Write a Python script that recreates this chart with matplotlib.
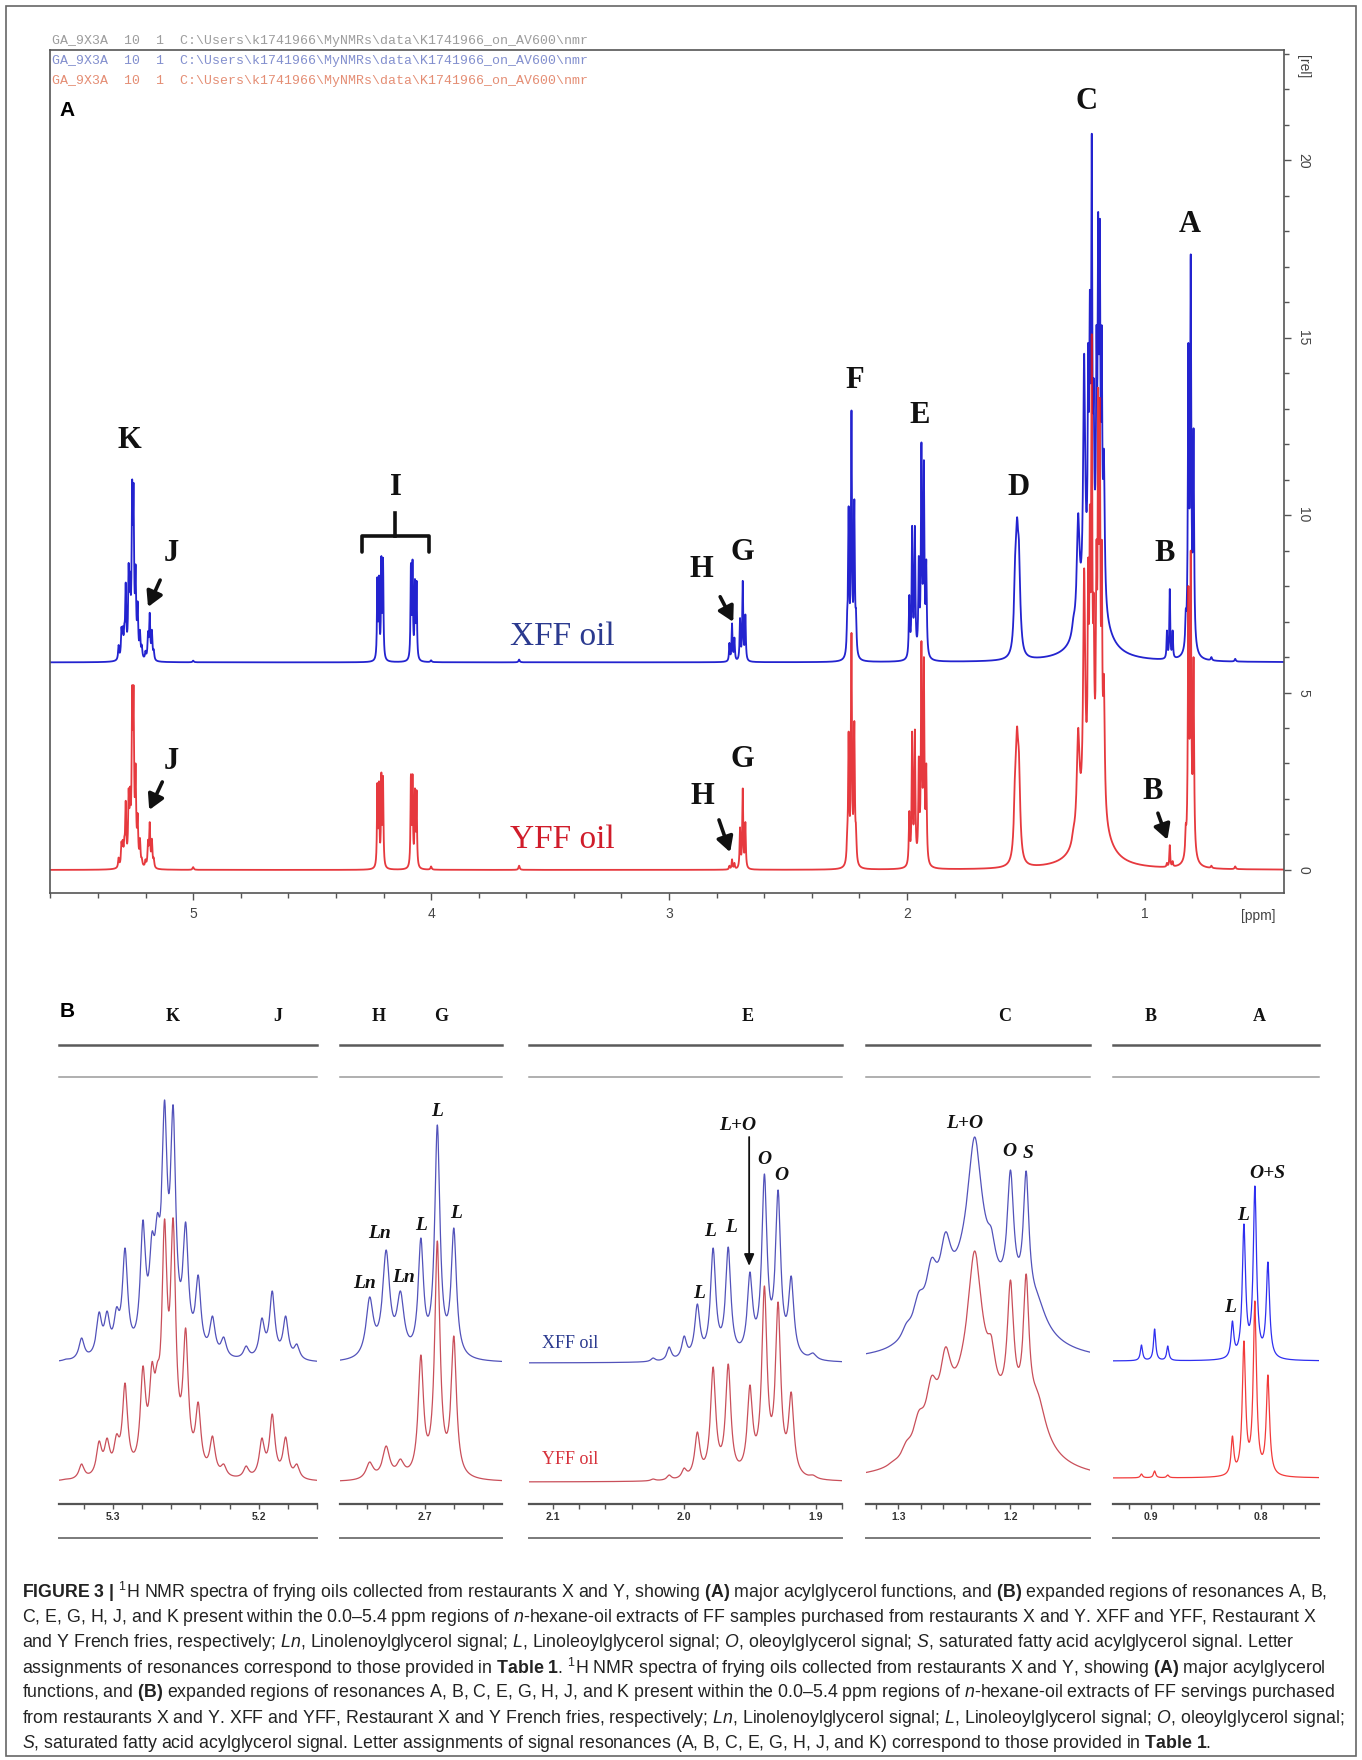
import numpy as np
import matplotlib
matplotlib.use("Agg")
import matplotlib.pyplot as plt
from matplotlib.ticker import MultipleLocator, FormatStrFormatter

plt.rcParams['font.family'] = ['Liberation Sans', 'DejaVu Sans']
plt.rcParams['mathtext.fontset'] = 'custom'
plt.rcParams['mathtext.rm'] = 'Liberation Sans'
plt.rcParams['mathtext.it'] = 'Liberation Sans:italic'
plt.rcParams['mathtext.bf'] = 'Liberation Sans:bold'

W, H = 1362, 1760

# ---------------- panel A : line lists (ppm, half width, height above baseline)
A_ppm = [5.3135, 5.3015, 5.2960, 5.2895, 5.2837, 5.2714, 5.2652, 5.2566, 5.2507, 5.2421,
         5.2335, 5.2237, 5.2160, 5.2006, 5.1898, 5.1827, 5.1735, 5.1658, 5.000,
         4.226, 4.219, 4.209, 4.202, 4.085, 4.078, 4.068, 4.061, 4.000, 3.630,
         2.746, 2.735, 2.725, 2.7015, 2.690, 2.679,
         2.251, 2.245, 2.233, 2.221, 2.214,
         1.990, 1.978, 1.9665, 1.950, 1.939, 1.9286, 1.9186,
         1.553, 1.545, 1.537, 1.529, 1.520,
         1.300, 1.280, 1.255, 1.238, 1.231, 1.223, 1.215, 1.203, 1.196, 1.189, 1.181, 1.172,
         0.907, 0.895, 0.883,
         0.828, 0.817, 0.807, 0.795, 0.720, 0.620]
A_w = [.0026] * 18 + [.003] + [.002] * 8 + [.003, .003] + [.0022] * 6 + [.0025] * 5 + \
      [.0025] * 7 + [.006] * 5 + [.007, .007, .005] + [.0025] * 8 + [.004] + \
      [.002] * 3 + [.0025] * 4 + [.003, .003]
A_xff = [0.49, 1.0, 1.02, 1.1, 2.25, 2.8, 2.56, 5.15, 5.05, 2.76,
         1.72, 0.92, 0.5, 0.33, 0.88, 1.4, 0.92, 0.37, 0.05,
         2.4, 2.45, 3.0, 2.95, 2.8, 2.9, 2.35, 2.3, 0.06, 0.08,
         0.55, 1.1, 0.7, 1.25, 2.3, 1.35,
         1.5, 4.4, 7.1, 4.6, 1.5,
         1.9, 3.85, 3.85, 3.0, 6.2, 5.7, 2.9,
         1.0, 3.0, 4.07, 3.4, 1.2,
         1.3, 4.2, 8.7, 9.0, 10.5, 14.9, 8.0, 9.5, 12.7, 12.5, 9.5, 6.0,
         0.9, 2.07, 0.9,
         1.5, 9.0, 11.5, 6.6, 0.15, 0.1]
A_yff = [0.35, 0.8, 0.85, 0.95, 1.95, 2.3, 2.35, 5.2, 5.2, 3.0,
         1.6, 0.9, 0.35, 0.3, 0.85, 1.35, 0.88, 0.35, 0.08,
         2.45, 2.5, 2.75, 2.65, 2.7, 2.7, 2.3, 2.25, 0.1, 0.12,
         0.12, 0.3, 0.2, 1.2, 2.3, 1.35,
         1.2, 3.9, 6.68, 4.2, 1.3,
         1.66, 3.9, 3.96, 3.2, 6.45, 6.0, 3.0,
         1.0, 2.9, 4.03, 3.3, 1.1,
         1.2, 4.0, 8.5, 8.8, 10.3, 15.1, 7.8, 9.3, 13.6, 13.3, 9.3, 5.5,
         0.2, 0.7, 0.25,
         1.3, 8.0, 9.0, 6.0, 0.12, 0.1]
# broad components (centre, half width, amplitude)
A_broad_xff = [(1.215, 0.045, 2.5), (0.806, 0.012, 0.8)]
A_broad_yff = [(1.215, 0.045, 2.5), (0.806, 0.012, 0.8)]
XFF_offset = 5.85

# ---------------- panel B : expanded regions (ppm, half width, height in px)
KJ_ppm = [5.3320, 5.3215, 5.3095, 5.3040, 5.2975, 5.2917, 5.2794, 5.2732, 5.2695, 5.2646,
          5.2587, 5.2501, 5.2415, 5.2317, 5.2240, 5.2086, 5.1978, 5.1907, 5.1815, 5.1738]
KJ_w = [0.0022] * 20
KJ_xff = [4, 25, 51, 52, 56, 115, 143, 131, 150, 263, 258, 141, 88, 47, 26, 17, 45, 72, 47, 19]
KJ_yff = [3, 18, 41, 44, 48, 99, 116, 120, 120, 263, 264, 154, 80, 46, 18, 16, 44, 68, 45, 18]

HG_ppm = [2.7385, 2.7271, 2.7172, 2.7031, 2.6917, 2.6803]
HG_w = [0.003, 0.003, 0.003, 0.0022, 0.0022, 0.0022]
HG_xff = [66, 113, 72, 125, 238, 135]
HG_yff = [20, 36, 23, 127, 241, 146]

E_ppm = [2.0236, 2.0114, 2.000, 1.990, 1.978, 1.9665, 1.950, 1.939, 1.9286, 1.9186, 1.902]
E_w = [0.002, 0.002, 0.0022, 0.0024, 0.0024, 0.0024, 0.0024, 0.0024, 0.0024, 0.0024, 0.003]
E_xff = [5, 16, 27, 59, 115, 116, 91, 189, 173, 87, 10]
E_yff = [3, 7, 14, 50, 115, 118, 97, 196, 180, 90, 7]

C_ppm = [1.305, 1.293, 1.282, 1.2705, 1.258, 1.232, 1.217, 1.200, 1.186, 1.175]
C_w = [0.005, 0.005, 0.006, 0.006, 0.006, 0.007, 0.004, 0.0035, 0.003, 0.008]
C_xff = [19, 40, 71, 105, 131, 226, 135, 193, 192, 67]
C_yff = [21, 41, 71, 106, 135, 231, 146, 202, 208, 88]
C_broad_xff = [(1.232, 0.025, 100), (1.185, 0.02, 30)]
C_broad_yff = [(1.232, 0.025, 100), (1.185, 0.02, 35)]

BA_ppm = [0.909, 0.897, 0.885, 0.826, 0.8155, 0.8055, 0.7936]
BA_w = [0.0012, 0.0012, 0.0012, 0.0015, 0.0018, 0.0018, 0.0018]
BA_xff = [16, 32, 15, 40, 137, 175, 99]
BA_yff = [4, 7, 3, 42, 137, 177, 103]


def lor(x, x0, w):
    return 1.0 / (1.0 + ((x - x0) / w) ** 2)


def trace(x, ppm, w, h, broad=()):
    ppm = np.asarray(ppm, float)
    w = np.asarray(w, float)
    h = np.asarray(h, float)
    base = np.zeros_like(x)
    at = np.zeros_like(h)
    for c, bw, a in broad:
        base += a * lor(x, c, bw)
        at += a * lor(ppm, c, bw)
    M = lor(ppm[:, None], ppm[None, :], w[None, :])
    amp = np.clip(np.linalg.solve(M, h - at), 0, None)
    return base + (amp[None, :] * lor(x[:, None], ppm[None, :], w[None, :])).sum(axis=1)


fig = plt.figure(figsize=(W / 100, H / 100), dpi=100)


def add_ax(x0, y0, x1, y1):
    return fig.add_axes([x0 / W, 1 - y1 / H, (x1 - x0) / W, (y1 - y0) / H])


def fx(px):
    return px / W


def fy(py):
    return 1 - py / H


# outer frame
fig.add_artist(plt.Rectangle((fx(6), fy(1756)), 1350 / W, 1750 / H, transform=fig.transFigure,
                             fill=False, ec='#666666', lw=1.2))

# ================= panel A
axA = add_ax(50, 50, 1284, 893)
xA = np.linspace(0.41, 5.61, 32000)
blue = XFF_offset + trace(xA, A_ppm, A_w, A_xff, A_broad_xff)
red = trace(xA, A_ppm, A_w, A_yff, A_broad_yff)
axA.plot(xA, blue, color='#2323cf', lw=1.3)
axA.plot(xA, red, color='#e2161c', lw=1.3, alpha=0.85)
axA.set_xlim(5.602, 0.415)
axA.set_ylim(-0.65, 23.11)
for s in axA.spines.values():
    s.set_color('#555555')
    s.set_linewidth(1.2)
axA.yaxis.tick_right()
axA.set_yticks([0, 5, 10, 15, 20])
axA.yaxis.set_minor_locator(MultipleLocator(1))
axA.set_xticks([5, 4, 3, 2, 1])
axA.xaxis.set_minor_locator(MultipleLocator(0.2))
axA.tick_params(axis='both', which='major', direction='out', length=5, width=1, color='#555555',
                labelsize=10, labelcolor='#444444')
axA.tick_params(axis='both', which='minor', direction='out', length=3.5, width=1, color='#555555')
axA.tick_params(axis='x', pad=5)
axA.tick_params(axis='y', labelrotation=-90, pad=4)
for t in axA.get_yticklabels():
    t.set_va('center')
fig.text(fx(1303), fy(67), '[rel]', rotation=-90, ha='center', va='center', fontsize=10, color='#444444')
fig.text(fx(1258), fy(916), '[ppm]', ha='center', va='center', fontsize=10, color='#444444')

hdr = r"GA_9X3A  10  1  C:\Users\k1741966\MyNMRs\data\K1741966_on_AV600\nmr"
mono = dict(family=['Liberation Mono', 'DejaVu Sans Mono'], fontsize=9.5, va='center', ha='left',
            alpha=0.85)
fig.text(fx(52), fy(41), hdr, color='#8c8c8c', **mono)
fig.text(fx(52), fy(61), hdr, color='#6d7cc6', **mono)
fig.text(fx(52), fy(81), hdr, color='#e07a5c', **mono)
fig.text(fx(67), fy(110), 'A', fontsize=15, fontweight='bold', ha='center', va='center')

serif_b = dict(family=['Liberation Serif', 'DejaVu Serif'], fontweight='bold', fontsize=22,
               ha='center', va='center', color='#111111')
A_labels = [('K', 5.27, 12.1), ('J', 5.093, 8.93), ('J', 5.093, 3.07), ('I', 4.149, 10.77),
            ('H', 2.862, 8.48), ('G', 2.69, 8.96), ('H', 2.86, 2.06), ('G', 2.69, 3.1),
            ('F', 2.221, 13.8), ('E', 1.947, 12.82), ('D', 1.53, 10.77), ('C', 1.244, 21.67),
            ('A', 0.81, 18.18), ('B', 0.916, 8.93), ('B', 0.966, 2.2)]
for lab, px, py in A_labels:
    axA.text(px, py, lab, **serif_b)
A_arrows = [((5.139, 8.17), (5.19, 7.41)), ((5.13, 2.48), (5.185, 1.69)),
            ((2.785, 7.7), (2.73, 6.99)), ((2.79, 1.41), (2.743, 0.5)),
            ((0.945, 1.6), (0.905, 0.85))]
for tail, head in A_arrows:
    axA.annotate('', xy=head, xytext=tail,
                 arrowprops=dict(arrowstyle='-|>,head_length=0.9,head_width=0.5', lw=2.6,
                                 color='#111111', shrinkA=0, shrinkB=0))
# bracket over resonance I
axA.plot([4.29, 4.29, 4.01, 4.01], [8.95, 9.4, 9.4, 8.95], color='#111111', lw=2.6,
         solid_joinstyle='round', solid_capstyle='round')
axA.plot([4.15, 4.15], [9.4, 10.05], color='#111111', lw=2.6)
oil = dict(family=['Liberation Serif', 'DejaVu Serif'], fontsize=24, ha='center', va='center')
axA.text(3.45, 6.57, 'XFF oil', color='#2b3a8f', **oil)
axA.text(3.45, 0.85, 'YFF oil', color='#d01c2a', **oil)

# ================= panel B
fig.text(fx(67), fy(1011), 'B', fontsize=15, fontweight='bold', ha='center', va='center')
hdr_font = dict(family=['Liberation Serif', 'DejaVu Serif'], fontweight='bold', fontsize=13,
                ha='center', va='center', color='#111111')
for lab, px in [('K', 173), ('J', 278), ('H', 379), ('G', 441), ('E', 748), ('C', 1005),
                ('B', 1151), ('A', 1259)]:
    fig.text(fx(px), fy(1016), lab, **hdr_font)

muted = ('#5252ba', '#c94f5a')
bright = ('#2f2ff0', '#f23a3a')
subpanels = [
    (59, 317, 5.337, 5.160, KJ_ppm, KJ_w, KJ_xff, KJ_yff, (), (), muted, 141, 22),
    (340, 502, 2.759, 2.647, HG_ppm, HG_w, HG_xff, HG_yff, (), (), muted, 141, 22),
    (529, 842, 2.118, 1.880, E_ppm, E_w, E_xff, E_yff, (), (), muted, 141, 22),
    (866, 1090, 1.329, 1.129, C_ppm, C_w, C_xff, C_yff, C_broad_xff, C_broad_yff, muted, 141, 22),
    (1113, 1319, 0.935, 0.747, BA_ppm, BA_w, BA_xff, BA_yff, (), (), bright, 143, 26),
]
axes_B = []
for x0, x1, p0, p1, ppm, w, hx, hy, bx, by, cols, offx, offy in subpanels:
    ax = add_ax(x0, 1077, x1, 1504)
    xs = np.linspace(p1, p0, 4000)
    ax.plot(xs, offx + trace(xs, ppm, w, hx, bx), color=cols[0], lw=0.9)
    ax.plot(xs, offy + trace(xs, ppm, w, hy, by), color=cols[1], lw=0.9)
    ax.set_xlim(p0, p1)
    ax.set_ylim(0, 427)
    ax.set_yticks([])
    for s in ('left', 'right'):
        ax.spines[s].set_visible(False)
    ax.spines['top'].set_color('#9a9a9a')
    ax.spines['top'].set_linewidth(1.1)
    ax.spines['bottom'].set_color('#555555')
    ax.spines['bottom'].set_linewidth(1.6)
    ax.xaxis.set_major_locator(MultipleLocator(0.1))
    ax.xaxis.set_minor_locator(MultipleLocator(0.02))
    ax.xaxis.set_major_formatter(FormatStrFormatter('%.1f'))
    ax.tick_params(axis='x', which='both', direction='out', length=3.5, width=1, color='#555555',
                   labelsize=7.5, pad=2, labelcolor='#333333')
    for t in ax.get_xticklabels():
        t.set_fontweight('bold')
    ax.plot([0, 1], [1.075, 1.075], transform=ax.transAxes, clip_on=False, color='#5a5a5a', lw=1.8)
    ax.plot([0, 1], [-0.0796, -0.0796], transform=ax.transAxes, clip_on=False, color='#7a7a7a', lw=1.4)
    axes_B.append(ax)

ital = dict(family=['Liberation Serif', 'DejaVu Serif'], fontweight='bold', style='italic',
            fontsize=14, ha='center', va='center', color='#111111')
B_labels = [
    (1, 'L', 2.6917, 392), (1, 'L', 2.6786, 290), (1, 'L', 2.7028, 278),
    (1, 'Ln', 2.7317, 270), (1, 'Ln', 2.742, 220), (1, 'Ln', 2.7152, 226),
    (2, 'L', 1.9886, 211), (2, 'L', 1.980, 272), (2, 'L', 1.964, 276), (2, 'L+O', 1.959, 378),
    (2, 'O', 1.939, 345), (2, 'O', 1.926, 329),
    (3, 'L+O', 1.241, 381), (3, 'O', 1.2009, 352), (3, 'S', 1.184, 350),
    (4, 'L', 0.828, 197), (4, 'L', 0.8164, 288), (4, 'O+S', 0.7945, 331),
]
for i, lab, px, py in B_labels:
    axes_B[i].text(px, py, lab, **ital)
axes_B[2].annotate('', xy=(1.9506, 238), xytext=(1.9506, 367),
                   arrowprops=dict(arrowstyle='-|>,head_length=0.7,head_width=0.3', lw=1.3,
                                   color='#111111', shrinkA=0, shrinkB=0))
oilB = dict(family=['Liberation Serif', 'DejaVu Serif'], fontsize=13, ha='center', va='center')
axes_B[2].text(2.0867, 160, 'XFF oil', color='#2b3a8f', **oilB)
axes_B[2].text(2.0867, 44, 'YFF oil', color='#d6303a', **oilB)

# ================= caption
cap = [
    r"$\mathbf{FIGURE\ 3\ |}$ $^{1}$H NMR spectra of frying oils collected from restaurants X and Y, showing $\mathbf{(A)}$ major acylglycerol functions, and $\mathbf{(B)}$ expanded regions of resonances A, B,",
    r"C, E, G, H, J, and K present within the 0.0–5.4 ppm regions of $\mathit{n}$-hexane-oil extracts of FF samples purchased from restaurants X and Y. XFF and YFF, Restaurant X",
    r"and Y French fries, respectively; $\mathit{Ln}$, Linolenoylglycerol signal; $\mathit{L}$, Linoleoylglycerol signal; $\mathit{O}$, oleoylglycerol signal; $\mathit{S}$, saturated fatty acid acylglycerol signal. Letter",
    r"assignments of resonances correspond to those provided in $\mathbf{Table\ 1}$. $^{1}$H NMR spectra of frying oils collected from restaurants X and Y, showing $\mathbf{(A)}$ major acylglycerol",
    r"functions, and $\mathbf{(B)}$ expanded regions of resonances A, B, C, E, G, H, J, and K present within the 0.0–5.4 ppm regions of $\mathit{n}$-hexane-oil extracts of FF servings purchased",
    r"from restaurants X and Y. XFF and YFF, Restaurant X and Y French fries, respectively; $\mathit{Ln}$, Linolenoylglycerol signal; $\mathit{L}$, Linoleoylglycerol signal; $\mathit{O}$, oleoylglycerol signal;",
    r"$\mathit{S}$, saturated fatty acid acylglycerol signal. Letter assignments of signal resonances (A, B, C, E, G, H, J, and K) correspond to those provided in $\mathbf{Table\ 1}$.",
]
cap_texts = [fig.text(fx(22), fy(1592 + i * 25.2), line, fontsize=11, va='center', ha='left',
                      color='#222222') for i, line in enumerate(cap)]
fig.canvas.draw()
widest = max(t.get_window_extent().width for t in cap_texts)
for t in cap_texts:
    t.set_fontsize(11 * 1320 / widest)

fig.savefig('out.png', dpi=100)
